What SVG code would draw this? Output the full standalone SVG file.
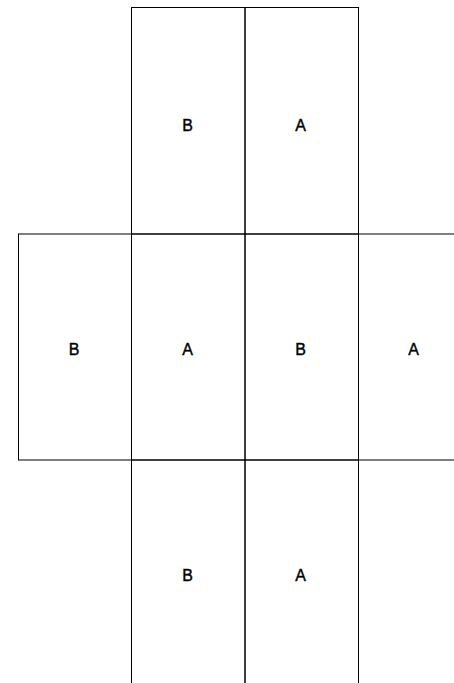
<svg xmlns="http://www.w3.org/2000/svg" width="454" height="683" viewBox="0 0 454 683">
<style>
.c{fill:none;stroke:#000;stroke-width:1}
.t{font-family:"Liberation Sans",Arial,sans-serif;font-size:16px;font-weight:normal;fill:#000;text-anchor:middle;stroke:#000;stroke-width:0.4}
</style>
<rect width="454" height="683" fill="#fff"/>
<g id="n1"><rect class="c" x="131.5" y="7.5" width="113.5" height="226.5"/><text class="t" x="187.5" y="131">B</text></g>
<g id="n2"><rect class="c" x="245" y="7.5" width="113.5" height="226.5"/><text class="t" x="300.5" y="131">A</text></g>
<g id="n3"><rect class="c" x="18.5" y="234" width="113" height="226"/><text class="t" x="74" y="355">B</text></g>
<g id="n4"><rect class="c" x="131.5" y="234" width="113.5" height="226"/><text class="t" x="187.5" y="355">A</text></g>
<g id="n5"><rect class="c" x="245" y="234" width="113.5" height="226"/><text class="t" x="300.5" y="355">B</text></g>
<g id="n6"><rect class="c" x="358.5" y="234" width="113.5" height="226"/><text class="t" x="413.5" y="355">A</text></g>
<g id="n7"><rect class="c" x="131.5" y="460" width="113.5" height="230"/><text class="t" x="187.5" y="581">B</text></g>
<g id="n8"><rect class="c" x="245" y="460" width="113.5" height="230"/><text class="t" x="300.5" y="581">A</text></g>
<g id="connectors"></g>
</svg>
